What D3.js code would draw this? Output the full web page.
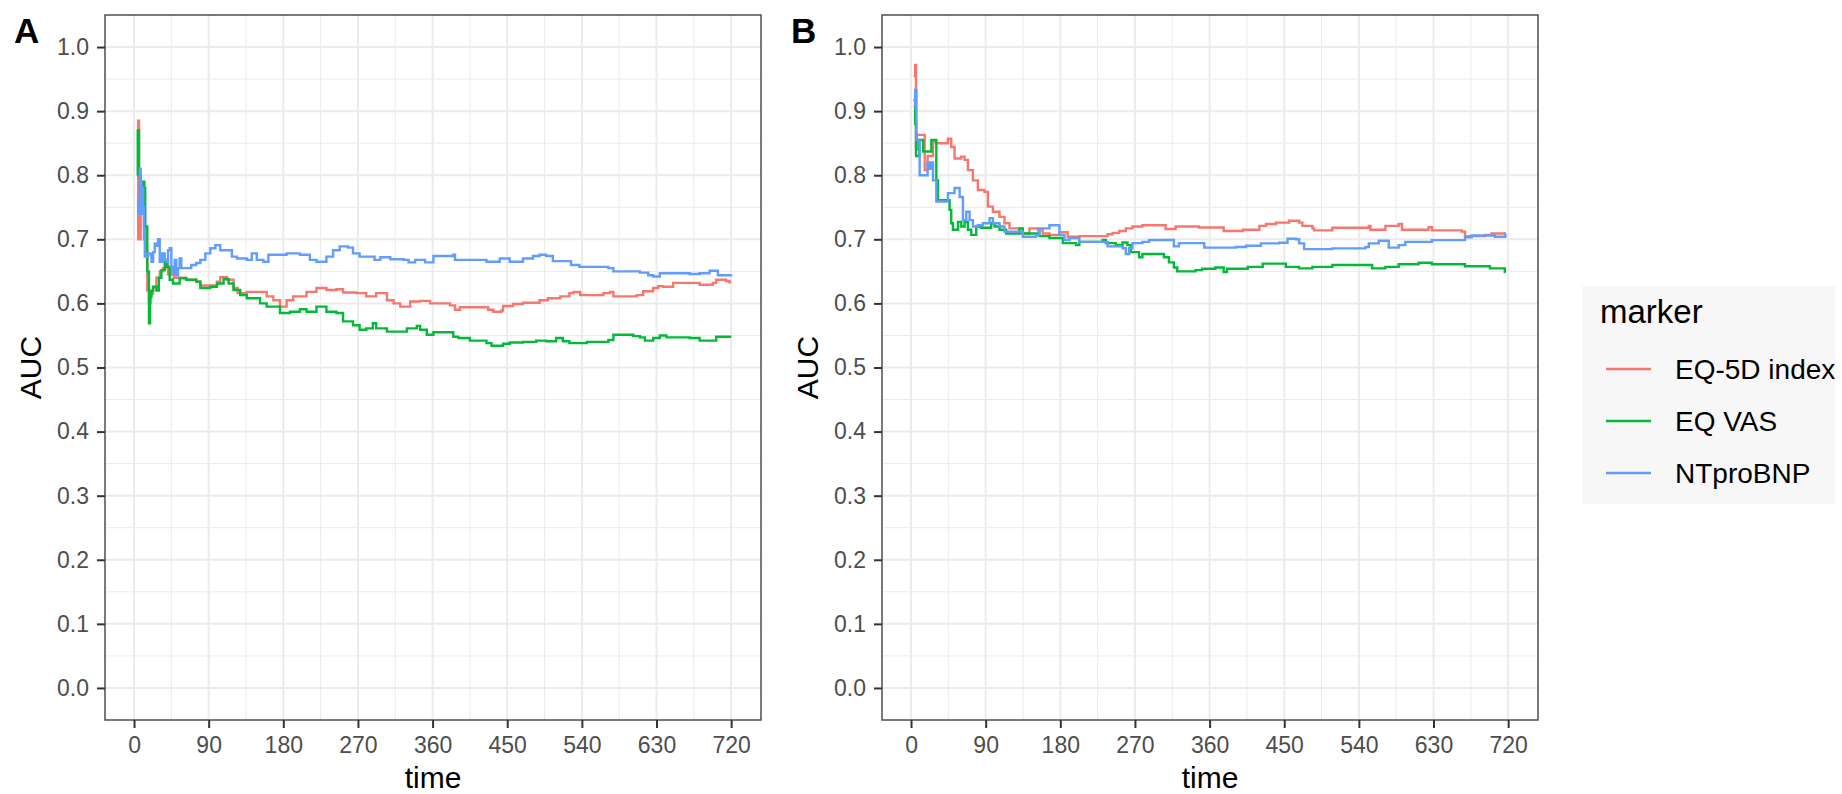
<!DOCTYPE html>
<html>
<head>
<meta charset="utf-8">
<script src="https://cdn.jsdelivr.net/npm/d3@7"></script>
<style>
  body { margin: 0; background: #fff; }
  text { font-family: "Liberation Sans", Arial, sans-serif; }
</style>
</head>
<body>
<svg id="chart" width="1842" height="794"></svg>
<script>
// tick values
const timeTicks = [0, 90, 180, 270, 360, 450, 540, 630, 720];
const aucTicks = [0, 0.1, 0.2, 0.3, 0.4, 0.5, 0.6, 0.7, 0.8, 0.9, 1.0];
const markers = ["EQ-5D index", "EQ VAS", "NTproBNP"];
const markerColors = ["#F8766D", "#00BA38", "#619CFF"];
const panelTags = ["A", "B"];

// panel A: [time, AUC] step points
const aEq5d = [[4,0.70],[5,0.885],[6,0.75],[7,0.70],[8,0.76],[10,0.74],[12,0.72],[14,0.68],[16,0.62],[18,0.60],[20,0.615],[23,0.625],[27,0.64],[31,0.65],[35,0.655],[38,0.662],[41,0.645],[45,0.655],[48,0.64],[55,0.64],[63,0.637],[75,0.634],[80,0.628],[90,0.628],[100,0.634],[104,0.641],[112,0.637],[120,0.624],[125,0.616],[136,0.618],[160,0.611],[168,0.605],[176,0.595],[184,0.605],[192,0.611],[208,0.618],[220,0.624],[232,0.621],[244,0.622],[252,0.617],[268,0.616],[280,0.611],[292,0.616],[305,0.605],[313,0.600],[321,0.595],[333,0.603],[345,0.604],[357,0.600],[381,0.597],[387,0.590],[393,0.594],[405,0.594],[427,0.590],[433,0.587],[443,0.589],[445,0.596],[457,0.599],[469,0.601],[489,0.605],[499,0.608],[514,0.611],[525,0.616],[530,0.618],[538,0.613],[566,0.616],[574,0.618],[578,0.611],[606,0.613],[614,0.619],[626,0.624],[632,0.627],[638,0.626],[650,0.632],[670,0.632],[682,0.629],[698,0.632],[702,0.637],[714,0.635],[718,0.633],[720,0.633]];
const aEqVas = [[4,0.80],[4.5,0.870],[6,0.80],[8,0.78],[10,0.79],[12.5,0.78],[13.5,0.72],[16,0.65],[18,0.569],[19.3,0.61],[21,0.62],[23,0.626],[27,0.62],[30,0.64],[33,0.652],[37,0.668],[40,0.657],[43,0.637],[47,0.631],[55,0.639],[63,0.637],[75,0.634],[80,0.624],[92,0.626],[100,0.631],[108,0.638],[114,0.631],[120,0.621],[128,0.613],[136,0.608],[152,0.600],[160,0.595],[176,0.585],[188,0.587],[200,0.591],[208,0.587],[220,0.595],[232,0.587],[244,0.585],[252,0.572],[264,0.566],[272,0.559],[280,0.561],[288,0.569],[292,0.561],[305,0.556],[329,0.561],[341,0.565],[345,0.559],[353,0.551],[361,0.555],[385,0.548],[391,0.546],[405,0.542],[425,0.538],[431,0.534],[445,0.537],[453,0.539],[469,0.540],[485,0.542],[497,0.541],[509,0.546],[517,0.541],[525,0.538],[546,0.540],[572,0.543],[578,0.551],[602,0.549],[610,0.547],[616,0.542],[626,0.546],[634,0.550],[642,0.547],[670,0.546],[682,0.542],[702,0.548],[720,0.548]];
const aNtprobnp = [[4,0.75],[5,0.76],[6,0.74],[7,0.81],[8,0.79],[9,0.74],[10,0.78],[11,0.75],[12,0.70],[13,0.673],[16,0.678],[20,0.675],[21,0.665],[23,0.68],[25,0.693],[27,0.69],[29,0.70],[31,0.665],[34,0.678],[37,0.668],[39,0.665],[41,0.683],[43,0.686],[45,0.657],[47,0.647],[49,0.668],[51,0.644],[53,0.655],[55,0.670],[57,0.655],[69,0.66],[75,0.663],[80,0.668],[86,0.678],[92,0.686],[98,0.691],[104,0.683],[118,0.673],[124,0.670],[136,0.668],[142,0.678],[148,0.668],[156,0.665],[162,0.676],[184,0.678],[200,0.676],[212,0.668],[220,0.665],[232,0.673],[240,0.683],[248,0.689],[258,0.687],[264,0.678],[272,0.673],[290,0.668],[297,0.672],[309,0.669],[325,0.668],[331,0.664],[339,0.668],[351,0.664],[361,0.674],[385,0.676],[387,0.668],[425,0.665],[441,0.670],[453,0.665],[469,0.670],[481,0.674],[489,0.676],[497,0.674],[505,0.666],[527,0.660],[537,0.657],[572,0.655],[578,0.650],[610,0.648],[620,0.644],[626,0.642],[634,0.647],[670,0.646],[682,0.647],[694,0.651],[704,0.644],[720,0.645]];

// panel B
const bEq5d = [[3,0.955],[5,0.972],[6,0.84],[7,0.863],[16.5,0.808],[20,0.83],[26.5,0.852],[30,0.85],[44.5,0.857],[48.5,0.844],[52.5,0.826],[60.5,0.829],[64.6,0.824],[68.6,0.808],[74.6,0.792],[80.6,0.777],[88.6,0.774],[92.7,0.751],[98.7,0.743],[106.7,0.735],[112.7,0.725],[118.7,0.717],[130.8,0.709],[142.8,0.717],[152.8,0.714],[158.8,0.709],[166.9,0.707],[178.9,0.711],[188.9,0.704],[203,0.705],[237,0.708],[243,0.710],[251,0.713],[259,0.717],[267,0.720],[279,0.722],[307,0.716],[319,0.720],[347,0.7185],[377,0.713],[400,0.715],[420,0.721],[428,0.724],[440,0.726],[456,0.729],[468,0.726],[472,0.721],[484,0.717],[486,0.714],[508,0.718],[552,0.721],[554,0.715],[572,0.721],[588,0.724],[592,0.715],[624,0.719],[628,0.714],[664,0.712],[668,0.705],[692,0.707],[700,0.709],[717,0.709]];
const bEqVas = [[3,0.917],[5,0.88],[6,0.83],[10,0.855],[14.5,0.837],[24.5,0.855],[30.5,0.792],[32.5,0.761],[46.5,0.746],[48.5,0.725],[50.5,0.715],[56.6,0.727],[60.6,0.72],[64.6,0.727],[68.6,0.715],[72.6,0.707],[78.6,0.72],[84.6,0.718],[96.7,0.725],[100.7,0.72],[106.7,0.715],[114.7,0.709],[130.8,0.717],[134.8,0.709],[154.8,0.705],[166.9,0.702],[183,0.694],[199,0.691],[203,0.696],[231,0.699],[235,0.694],[247,0.691],[255,0.695],[261,0.691],[265,0.680],[275,0.672],[279,0.677],[305,0.672],[311,0.664],[317,0.656],[321,0.650],[343,0.652],[351,0.654],[367,0.656],[377,0.649],[381,0.654],[406,0.657],[424,0.662],[452,0.657],[468,0.6546],[484,0.657],[508,0.66],[556,0.6546],[572,0.657],[588,0.661],[612,0.6634],[628,0.661],[668,0.658],[698,0.6546],[716,0.649],[717,0.649]];
const bNtprobnp = [[3,0.907],[5,0.933],[6.5,0.855],[10.4,0.80],[20,0.82],[22,0.81],[24.5,0.82],[26.5,0.792],[30.5,0.759],[44.5,0.772],[52.5,0.78],[58.6,0.766],[62.6,0.73],[66.6,0.743],[70.6,0.73],[74.6,0.72],[80.6,0.722],[86.6,0.725],[94.7,0.733],[98.7,0.725],[106.7,0.72],[112.7,0.712],[134.8,0.704],[150.8,0.707],[154.8,0.717],[166.9,0.722],[178.9,0.707],[185,0.699],[191,0.702],[203,0.696],[237,0.689],[255,0.686],[259,0.677],[263,0.686],[267,0.694],[279,0.696],[287,0.699],[317,0.689],[323,0.694],[353.6,0.687],[391.7,0.688],[404,0.690],[421.8,0.6936],[443.8,0.6946],[454,0.701],[464,0.700],[468,0.6936],[474,0.6847],[508,0.6858],[548,0.688],[552,0.6936],[564,0.6977],[576,0.687],[588,0.691],[596,0.696],[628,0.6988],[668,0.703],[676,0.706],[704,0.704],[716.6,0.709],[717,0.709]];

const panelSeries = [
  [aEq5d, aEqVas, aNtprobnp],
  [bEq5d, bEqVas, bNtprobnp],
];

var svg = d3.select("#chart");

// layout of the two ggplot panels
var panelLeft = [105, 882];
var panelWidth = 656;
var panelTop = 15, panelBottom = 720;

var minorX = d3.range(45, 720, 90);
var minorY = d3.range(0.05, 1.0, 0.1);

function drawPanel(i) {
  var left = panelLeft[i];
  var x = d3.scaleLinear().domain([-35, 756]).range([left, left + panelWidth]);
  var y = d3.scaleLinear().domain([-0.05, 1.05]).range([panelBottom, panelTop]);
  var g = svg.append("g");

  // grid lines, minor then major
  g.selectAll(".minx").data(minorX).enter().append("line")
    .attr("x1", d => x(d)).attr("x2", d => x(d))
    .attr("y1", panelTop).attr("y2", panelBottom)
    .attr("stroke", "#EBEBEB").attr("stroke-width", 1);
  g.selectAll(".miny").data(minorY).enter().append("line")
    .attr("x1", left).attr("x2", left + panelWidth)
    .attr("y1", d => y(d)).attr("y2", d => y(d))
    .attr("stroke", "#EBEBEB").attr("stroke-width", 1);
  g.selectAll(".majx").data(timeTicks).enter().append("line")
    .attr("x1", d => x(d)).attr("x2", d => x(d))
    .attr("y1", panelTop).attr("y2", panelBottom)
    .attr("stroke", "#EBEBEB").attr("stroke-width", 2);
  g.selectAll(".majy").data(aucTicks).enter().append("line")
    .attr("x1", left).attr("x2", left + panelWidth)
    .attr("y1", d => y(d)).attr("y2", d => y(d))
    .attr("stroke", "#EBEBEB").attr("stroke-width", 2);

  // step lines, red first so blue ends on top
  var line = d3.line()
    .x(d => x(d[0]))
    .y(d => y(d[1]))
    .curve(d3.curveStepAfter);
  panelSeries[i].forEach(function (s, k) {
    g.append("path")
      .datum(s)
      .attr("d", line)
      .attr("fill", "none")
      .attr("stroke", markerColors[k])
      .attr("stroke-width", 2.4)
      .attr("stroke-linejoin", "miter");
  });

  // panel border
  g.append("rect")
    .attr("x", left).attr("y", panelTop)
    .attr("width", panelWidth).attr("height", panelBottom - panelTop)
    .attr("fill", "none").attr("stroke", "#4D4D4D").attr("stroke-width", 1.5);

  // axes
  var yAxis = g.append("g")
    .attr("transform", "translate(" + left + ",0)")
    .call(d3.axisLeft(y).tickValues(aucTicks).tickFormat(d3.format(".1f")).tickSize(8).tickPadding(8));
  var xAxis = g.append("g")
    .attr("transform", "translate(0," + panelBottom + ")")
    .call(d3.axisBottom(x).tickValues(timeTicks).tickSize(8).tickPadding(9));
  [xAxis, yAxis].forEach(function (a) {
    a.select(".domain").remove();
    a.selectAll(".tick line").attr("stroke", "#333333").attr("stroke-width", 2);
    a.selectAll(".tick text")
      .attr("fill", "#4D4D4D")
      .style("font-size", "23px")
      .style("font-family", "'Liberation Sans', Arial, sans-serif");
  });

  // axis titles
  svg.append("text")
    .attr("x", left + panelWidth / 2).attr("y", 788)
    .attr("text-anchor", "middle")
    .style("font-size", "30px")
    .text("time");
  svg.append("text")
    .attr("transform", "translate(" + (left - 64) + "," + (panelTop + panelBottom) / 2 + ") rotate(-90)")
    .attr("text-anchor", "middle")
    .style("font-size", "30px")
    .text("AUC");

  // panel tag
  svg.append("text")
    .attr("x", left - 91).attr("y", 43)
    .style("font-size", "35px")
    .style("font-weight", "bold")
    .text(panelTags[i]);
}

drawPanel(0);
drawPanel(1);

// legend
var legend = svg.append("g");
legend.append("rect")
  .attr("x", 1582).attr("y", 286)
  .attr("width", 253).attr("height", 218)
  .attr("fill", "#F7F7F7");
legend.append("text")
  .attr("x", 1600).attr("y", 323)
  .style("font-size", "33px")
  .text("marker");
var keys = legend.selectAll(".key").data(markers).enter().append("g")
  .attr("transform", (d, k) => "translate(0," + (369 + k * 52) + ")");
keys.append("line")
  .attr("x1", 1606).attr("x2", 1651)
  .attr("stroke", (d, k) => markerColors[k])
  .attr("stroke-width", 2.5);
keys.append("text")
  .attr("x", 1675).attr("y", 10)
  .style("font-size", "28px")
  .text(d => d);
</script>
</body>
</html>
